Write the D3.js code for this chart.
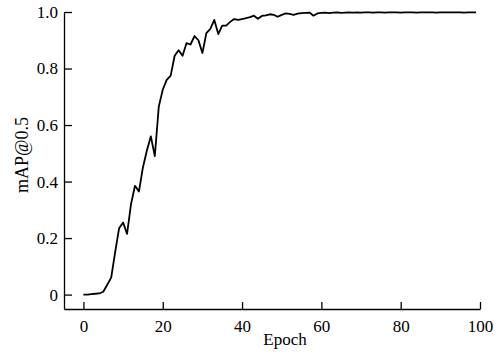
<!DOCTYPE html>
<html>
<head>
<meta charset="utf-8">
<script src="https://cdn.jsdelivr.net/npm/d3@7"></script>
<style>
  body { margin: 0; background: #fff; }
  svg { display: block; }
</style>
</head>
<body>
<div id="chart"></div>
<script>
// mAP@0.5 per epoch
const epochs = d3.range(0, 100);
const mapValues = [
  0.000, 0.000, 0.002, 0.003, 0.004, 0.010, 0.035, 0.060, 0.150, 0.235,
  0.255, 0.215, 0.320, 0.385, 0.365, 0.450, 0.510, 0.560, 0.490, 0.665,
  0.725, 0.760, 0.775, 0.845, 0.865, 0.845, 0.890, 0.885, 0.915, 0.900,
  0.855, 0.925, 0.940, 0.972, 0.922, 0.952, 0.952, 0.965, 0.975, 0.972,
  0.975, 0.978, 0.982, 0.987, 0.976, 0.986, 0.988, 0.992, 0.990, 0.983,
  0.990, 0.995, 0.993, 0.990, 0.994, 0.996, 0.997, 0.998, 0.987, 0.995,
  0.997, 0.998, 0.996, 0.998, 0.999, 0.997, 0.998, 0.999, 0.998, 0.999,
  0.998, 0.999, 0.999, 0.998, 0.999, 0.999, 0.998, 0.999, 0.999, 0.999,
  0.998, 0.999, 0.999, 0.999, 0.998, 0.999, 0.999, 0.999, 0.999, 0.998,
  0.999, 0.999, 0.999, 0.999, 0.999, 0.999, 0.998, 0.999, 0.999, 0.999
];
const xTicks = [0, 20, 40, 60, 80, 100];
const yTicks = [0, 0.2, 0.4, 0.6, 0.8, 1.0];

const width = 500;
const height = 355;
const margin = { top: 12, right: 20, bottom: 46, left: 64 };
const font = 'Liberation Serif, Times New Roman, serif';

const svg = d3.select('#chart')
  .append('svg')
  .attr('width', width)
  .attr('height', height);

const x = d3.scaleLinear()
  .domain([-4.9, 100])
  .range([margin.left, width - margin.right]);

const y = d3.scaleLinear()
  .domain([-0.051, 1.0])
  .range([height - margin.bottom, margin.top]);

const xAxis = svg.append('g')
  .attr('transform', `translate(0,${height - margin.bottom})`)
  .call(d3.axisBottom(x)
    .tickValues(xTicks)
    .tickSizeInner(-7)
    .tickSizeOuter(0)
    .tickPadding(11)
    .tickFormat(d3.format('d')));

const yAxis = svg.append('g')
  .attr('transform', `translate(${margin.left},0)`)
  .call(d3.axisLeft(y)
    .tickValues(yTicks)
    .tickSizeInner(-8)
    .tickSizeOuter(0)
    .tickPadding(6)
    .tickFormat(d => d === 0 ? '0' : d3.format('.1f')(d)));

[xAxis, yAxis].forEach(g => {
  g.attr('font-family', font).attr('font-size', 17);
  g.selectAll('path, line').attr('stroke', '#000').attr('stroke-width', 1.3);
  g.selectAll('text').attr('fill', '#000');
});

const line = d3.line()
  .x((d, i) => x(epochs[i]))
  .y(d => y(d));

svg.append('path')
  .datum(mapValues)
  .attr('fill', 'none')
  .attr('stroke', '#000')
  .attr('stroke-width', 1.8)
  .attr('stroke-linejoin', 'round')
  .attr('d', line);

svg.append('text')
  .attr('x', 285)
  .attr('y', 345)
  .attr('text-anchor', 'middle')
  .attr('font-family', font)
  .attr('font-size', 17)
  .text('Epoch');

svg.append('text')
  .attr('transform', 'translate(28,155) rotate(-90)')
  .attr('text-anchor', 'middle')
  .attr('font-family', font)
  .attr('font-size', 18)
  .text('mAP@0.5');
</script>
</body>
</html>
